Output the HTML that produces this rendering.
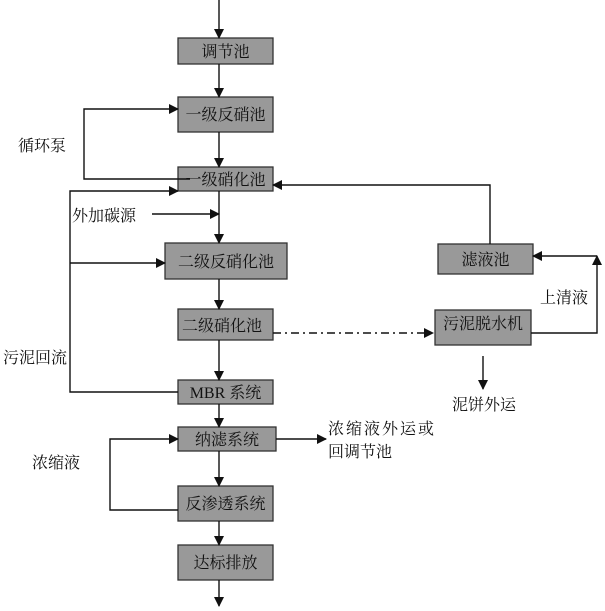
<!DOCTYPE html>
<html><head><meta charset="utf-8"><style>
html,body{margin:0;padding:0;background:#fff;}
svg{display:block;}
text{font-family:"Liberation Serif","Noto Serif CJK SC",serif;font-size:16px;fill:#111;}
.b{fill:#999;stroke:#333;stroke-width:1.3;}
.l{stroke:#111;stroke-width:1.4;fill:none;}
</style></head><body>
<svg width="605" height="611" viewBox="0 0 605 611" xmlns="http://www.w3.org/2000/svg">
<defs><marker id="a" markerWidth="10" markerHeight="10" refX="9" refY="5" orient="auto" markerUnits="userSpaceOnUse"><path d="M0,0 L10,5 L0,10 z" fill="#111"/></marker></defs>
<!-- boxes -->
<rect class="b" x="178" y="38" width="95" height="26"/>
<rect class="b" x="178" y="97" width="95" height="35"/>
<rect class="b" x="178" y="167" width="95" height="24"/>
<rect class="b" x="165" y="243" width="122" height="36"/>
<rect class="b" x="178" y="309" width="95" height="31"/>
<rect class="b" x="178" y="380" width="95" height="24"/>
<rect class="b" x="178" y="427" width="98" height="24"/>
<rect class="b" x="178" y="486" width="95" height="35"/>
<rect class="b" x="178" y="545" width="95" height="35"/>
<rect class="b" x="438" y="244" width="95" height="30"/>
<rect class="b" x="435" y="310" width="96" height="35"/>
<!-- main vertical arrows -->
<line class="l" x1="219" y1="0" x2="219" y2="38" marker-end="url(#a)"/>
<line class="l" x1="219" y1="64" x2="219" y2="97" marker-end="url(#a)"/>
<line class="l" x1="219" y1="132" x2="219" y2="167" marker-end="url(#a)"/>
<line class="l" x1="219" y1="191" x2="219" y2="243" marker-end="url(#a)"/>
<line class="l" x1="219" y1="279" x2="219" y2="309" marker-end="url(#a)"/>
<line class="l" x1="219" y1="340" x2="219" y2="380" marker-end="url(#a)"/>
<line class="l" x1="219" y1="404" x2="219" y2="427" marker-end="url(#a)"/>
<line class="l" x1="219" y1="451" x2="219" y2="486" marker-end="url(#a)"/>
<line class="l" x1="219" y1="521" x2="219" y2="545" marker-end="url(#a)"/>
<line class="l" x1="219" y1="580" x2="219" y2="606" marker-end="url(#a)"/>
<!-- circulation loop -->
<polyline class="l" points="190,179 84,179 84,109 178,109" marker-end="url(#a)"/>
<!-- sludge return -->
<polyline class="l" points="178,392 70,392 70,191 178,191" marker-end="url(#a)"/>
<line class="l" x1="70" y1="263" x2="165" y2="263" marker-end="url(#a)"/>
<!-- carbon -->
<line class="l" x1="152" y1="214" x2="219" y2="214" marker-end="url(#a)"/>
<!-- filtrate -->
<polyline class="l" points="490,244 490,185 273,185" marker-end="url(#a)"/>
<!-- supernatant -->
<polyline class="l" points="531,333 597,333 597,256" marker-end="url(#a)"/>
<line class="l" x1="597" y1="256" x2="533" y2="256" marker-end="url(#a)"/>
<!-- dash-dot -->
<line class="l" x1="273" y1="333" x2="433" y2="333" stroke-dasharray="8,4,2,4" marker-end="url(#a)"/>
<!-- sludge cake -->
<line class="l" x1="483" y1="356" x2="483" y2="389" marker-end="url(#a)"/>
<!-- NF output -->
<line class="l" x1="276" y1="439" x2="326" y2="439" marker-end="url(#a)"/>
<!-- concentrate loop -->
<polyline class="l" points="178,510 110,510 110,439 178,439" marker-end="url(#a)"/>
<!-- box labels -->
<text x="225.5" y="57" text-anchor="middle">调节池</text>
<text x="225.5" y="120" text-anchor="middle">一级反硝池</text>
<text x="225.5" y="185" text-anchor="middle">一级硝化池</text>
<text x="226" y="267" text-anchor="middle">二级反硝化池</text>
<text x="222" y="331" text-anchor="middle">二级硝化池</text>
<text x="225.5" y="398" text-anchor="middle">MBR 系统</text>
<text x="227" y="445" text-anchor="middle">纳滤系统</text>
<text x="225.5" y="509" text-anchor="middle">反渗透系统</text>
<text x="225.5" y="568" text-anchor="middle">达标排放</text>
<text x="485.5" y="265" text-anchor="middle">滤液池</text>
<text x="483" y="329" text-anchor="middle">污泥脱水机</text>
<!-- free labels -->
<text x="18" y="151">循环泵</text>
<text x="72" y="221">外加碳源</text>
<text x="3" y="363">污泥回流</text>
<text x="32" y="468">浓缩液</text>
<text x="540" y="303">上清液</text>
<text x="452" y="410">泥饼外运</text>
<text x="328" y="434" letter-spacing="2">浓缩液外运或</text>
<text x="328" y="457">回调节池</text>
</svg>
</body></html>
